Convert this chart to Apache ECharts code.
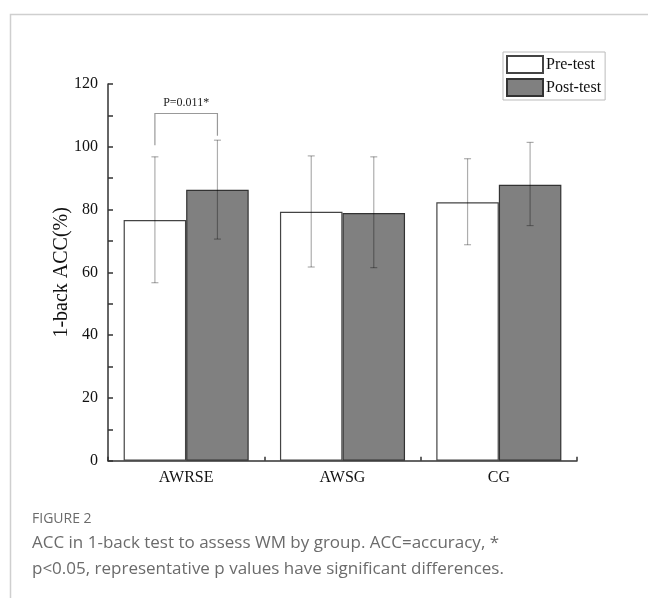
<!DOCTYPE html>
<html>
<head>
<meta charset="utf-8">
<script src="https://cdn.jsdelivr.net/npm/echarts@6/dist/echarts.min.js"></script>
<style>
html,body{margin:0;padding:0;background:#fff;}
#chart{width:648px;height:598px;}
</style>
</head>
<body>
<div id="chart"></div>
<script>
const categories = ['AWRSE', 'AWSG', 'CG'];
const preMean = [76.7, 79.3, 82.3];
const postMean = [86.3, 78.9, 87.9];
const preUpper = [96.8, 97.1, 96.2];
const preLower = [56.7, 61.7, 68.8];
const postUpper = [102.1, 96.8, 101.4];
const postLower = [70.6, 61.5, 74.9];
const seriesNames = ['Pre-test', 'Post-test'];
const sigCategory = 0;
const sigLineValue = 110.6;
const sigLegValues = [100.5, 103.5];
const sigLabel = 'P=0.011*';
const captionTitle = 'FIGURE 2';
const captionLine1 = 'ACC in 1-back test to assess WM by group. ACC=accuracy, *';
const captionLine2 = 'p<0.05, representative p values have significant differences.';

const serif = '"Liberation Serif", "Times New Roman", serif';
const chart = echarts.init(document.getElementById('chart'), null, {renderer: 'canvas'});

function errData(lower, upper) {
  return categories.map((c, i) => [i, lower[i], upper[i]]);
}

function errRender(offsetFrac) {
  return function (params, api) {
    const i = api.value(0);
    const bw = api.size([1, 0])[0];
    const x = api.coord([i, 0])[0] + bw * offsetFrac;
    const lo = api.coord([i, api.value(1)])[1];
    const hi = api.coord([i, api.value(2)])[1];
    const cap = 3.5;
    const style = {stroke: 'rgba(0,0,0,0.32)', lineWidth: 1.2, fill: null};
    return {
      type: 'group',
      children: [
        {type: 'line', shape: {x1: x, y1: lo, x2: x, y2: hi}, style: style},
        {type: 'line', shape: {x1: x - cap, y1: hi, x2: x + cap, y2: hi}, style: style},
        {type: 'line', shape: {x1: x - cap, y1: lo, x2: x + cap, y2: lo}, style: style}
      ]
    };
  };
}

const option = {
  animation: false,
  backgroundColor: '#fff',
  grid: {left: 108, right: 71, top: 84, bottom: 137.3},
  legend: {
    data: seriesNames,
    orient: 'vertical',
    left: 503,
    top: 52,
    itemWidth: 36,
    itemHeight: 17,
    itemGap: 4,
    padding: [3, 4, 3, 3],
    borderColor: '#bbb',
    borderWidth: 1,
    icon: 'rect',
    textStyle: {fontFamily: serif, fontSize: 16, color: '#111', padding: [0, 0, 0, -2]}
  },
  xAxis: {
    type: 'category',
    data: categories,
    axisLine: {lineStyle: {color: '#333', width: 1.5}},
    axisTick: {show: true, inside: true, length: 4, lineStyle: {color: '#333', width: 1.5}},
    axisLabel: {fontFamily: serif, fontSize: 16, color: '#111', margin: 9}
  },
  yAxis: {
    type: 'value',
    min: 0,
    max: 120,
    interval: 20,
    name: '1-back ACC(%)',
    nameLocation: 'middle',
    nameGap: 36,
    nameMoveOverlap: false,
    nameRotate: 90,
    nameTextStyle: {fontFamily: serif, fontSize: 20, color: '#111'},
    axisLine: {show: true, lineStyle: {color: '#333', width: 1.5}},
    axisTick: {show: true, inside: true, length: 5, lineStyle: {color: '#333', width: 1.5}},
    minorTick: {show: true, splitNumber: 2, length: 5, lineStyle: {color: '#333', width: 1.5}},
    splitLine: {show: false},
    axisLabel: {fontFamily: serif, fontSize: 16, color: '#111', margin: 10}
  },
  series: [
    {
      name: seriesNames[0],
      type: 'bar',
      data: preMean,
      barGap: '0%',
      barCategoryGap: '20%',
      itemStyle: {color: '#ffffff', borderColor: '#444', borderWidth: 1.2}
    },
    {
      name: seriesNames[1],
      type: 'bar',
      data: postMean,
      barGap: '0%',
      barCategoryGap: '20%',
      itemStyle: {color: '#808080', borderColor: '#333', borderWidth: 1.2}
    },
    {
      type: 'custom',
      renderItem: errRender(-0.2),
      data: errData(preLower, preUpper),
      z: 10
    },
    {
      type: 'custom',
      renderItem: errRender(0.2),
      data: errData(postLower, postUpper),
      z: 10
    },
    {
      type: 'custom',
      z: 11,
      data: [[sigCategory, sigLineValue, sigLegValues[0], sigLegValues[1]]],
      renderItem: function (params, api) {
        const i = api.value(0);
        const bw = api.size([1, 0])[0];
        const cx = api.coord([i, 0])[0];
        const x1 = cx - bw * 0.2, x2 = cx + bw * 0.2;
        const y = api.coord([i, api.value(1)])[1];
        const yl = api.coord([i, api.value(2)])[1];
        const yr = api.coord([i, api.value(3)])[1];
        const style = {stroke: '#999', lineWidth: 1.2, fill: null};
        return {
          type: 'group',
          children: [
            {type: 'polyline', shape: {points: [[x1, yl], [x1, y], [x2, y], [x2, yr]]}, style: style},
            {type: 'text', style: {text: sigLabel, x: cx, y: y - 5, align: 'center', verticalAlign: 'bottom',
              font: '12px ' + serif, fill: '#222'}}
          ]
        };
      }
    }
  ],
  graphic: [
    {type: 'rect', left: 8, top: 12, shape: {width: 700, height: 700},
      style: {fill: null, stroke: '#cfcfcf', lineWidth: 1.5}, z: -1, silent: true},
    {type: 'text', left: 32, top: 512, style: {text: captionTitle, font: '14px "Open Sans", sans-serif', fill: '#6b6b6b'}},
    {type: 'text', left: 32, top: 535, style: {text: captionLine1, font: '17px "Open Sans", sans-serif', fill: '#6b6b6b'}},
    {type: 'text', left: 32, top: 561, style: {text: captionLine2, font: '17px "Open Sans", sans-serif', fill: '#6b6b6b'}}
  ]
};
chart.setOption(option);
</script>
</body>
</html>
